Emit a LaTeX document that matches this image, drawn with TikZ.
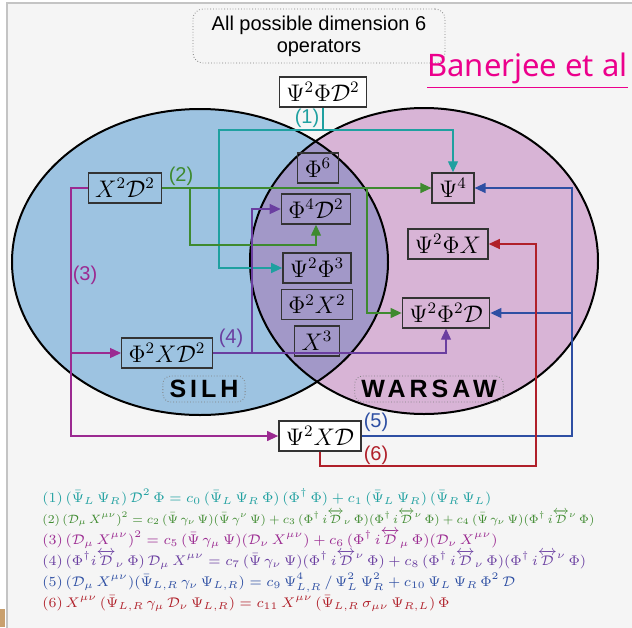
\documentclass[tikz,border=0pt]{standalone}
\usepackage{amsmath}
\usepackage{graphicx}
\usepackage{fontspec}
\setsansfont{Liberation Sans}
\newfontfamily\refsfont{Noto Sans}
\newfontfamily\tagsfont[LetterSpace=16]{Liberation Sans}
\usetikzlibrary{arrows.meta, positioning}
\definecolor{silhBlue}{HTML}{9DC3E1}
\definecolor{warsawPink}{HTML}{D8B4D6}
\definecolor{lensPurple}{HTML}{A298C8}
\definecolor{pageGray}{HTML}{F5F5F5}
\definecolor{rimGray}{HTML}{C4C4C4}
\definecolor{tanMark}{HTML}{C9A06E}
\definecolor{boxLine}{HTML}{333333}
\definecolor{opOne}{HTML}{1FA0A0}
\definecolor{opTwo}{HTML}{3E8A2F}
\definecolor{opThree}{HTML}{9B2A91}
\definecolor{opFour}{HTML}{6A3EA0}
\definecolor{opFive}{HTML}{2E4FA3}
\definecolor{opSix}{HTML}{B0202A}
\tikzset{
  opbox/.style={draw=boxLine, line width=0.7pt, font=\large, inner xsep=3.5pt, inner ysep=0pt, minimum height=15pt},
  tagbox/.style={draw=gray, densely dotted, line width=0.4pt, rounded corners=4pt, font=\tagsfont\bfseries\fontsize{12.5}{14}\selectfont, minimum height=13pt, inner ysep=0pt},
  opline/.style={line width=0.6pt},
  oparr/.style={opline, -{Triangle[length=5.5pt,width=5pt]}},
  numlabel/.style={font=\sffamily\fontsize{10}{12}\selectfont, inner sep=0pt},
  eqline/.style={anchor=base west, font=\scriptsize, inner sep=0pt, text height=5pt, text depth=2pt},
}
\newcommand{\Dlr}{\overleftrightarrow{\mathcal{D}}}

\begin{document}
\begin{tikzpicture}[x=0.5pt, y=-0.5pt]
  \useasboundingbox (0,0) rectangle (632,627);
  \fill[white] (0,0) rectangle (632,627);
  \filldraw[fill=pageGray, draw=rimGray, line width=1pt] (7,3) rectangle (650,650);
  \fill[tanMark] (0,609) rectangle (5,627);

  \fill[silhBlue] (200,262) ellipse [x radius=188, y radius=153];
  \fill[warsawPink] (424,261) ellipse [x radius=174, y radius=153];
  \begin{scope}
    \clip (200,262) ellipse [x radius=188, y radius=153];
    \fill[lensPurple] (424,261) ellipse [x radius=174, y radius=153];
  \end{scope}
  \draw[line width=1pt] (200,262) ellipse [x radius=188, y radius=153];
  \draw[line width=1pt] (424,261) ellipse [x radius=174, y radius=153];

  \node[draw=gray, densely dotted, rounded corners=5pt, fill=pageGray, align=center,
    font=\sffamily\fontsize{10}{11}\selectfont, minimum width=126pt, minimum height=22pt] (ttl) at (319,36)
    {All possible dimension 6\\operators};
  \node[anchor=base west, inner sep=0pt, text=magenta, font=\refsfont\fontsize{15.5}{18}\selectfont] (ref) at (427,76)
    {\underline{Banerjee et al}};

  \node[opbox, fill=white] (top) at (323,92) {$\Psi^2\Phi\mathcal{D}^2$};
  \node[opbox] (xdd) at (125,188) {$X^2\mathcal{D}^2$};
  \node[opbox] (phisix) at (318,168) {$\Phi^6$};
  \node[opbox] (phifour) at (316,209) {$\Phi^4\mathcal{D}^2$};
  \node[opbox] (psiphithree) at (317,268) {$\Psi^2\Phi^3$};
  \node[opbox, below=2.5pt of psiphithree] (phixx) {$\Phi^2X^2$};
  \node[opbox, below=2.5pt of phixx] (xthree) {$X^3$};
  \node[opbox] (psifour) at (453,188) {$\Psi^4$};
  \node[opbox] (psiphix) at (448,244) {$\Psi^2\Phi X$};
  \node[opbox] (psiphid) at (446,313) {$\Psi^2\Phi^2\mathcal{D}$};
  \node[opbox] (phixd) at (167,353) {$\Phi^2X\mathcal{D}^2$};
  \node[opbox, fill=white] (psixd) at (320,436) {$\Psi^2X\mathcal{D}$};

  \node[tagbox, minimum width=41pt] (silh) at (204,389) {SILH};
  \node[tagbox, minimum width=74pt] (warsaw) at (429,389) {WARSAW};

  \coordinate (a1) at (323,130);
  \draw[oparr, opOne] (top) -- (a1) -| (psifour);
  \draw[oparr, opOne] (a1) -- (219,130) |- (psiphithree);
  \draw[oparr, opTwo] (xdd) -- (psifour);
  \coordinate (a2) at (316,245);
  \draw[oparr, opTwo] (190,188) |- (a2) -- (phifour);
  \draw[oparr, opTwo] (367,188) |- (psiphid);
  \draw[oparr, opThree] (xdd) -- (71,188) |- (psixd);
  \draw[oparr, opThree] (71,353) -- (phixd);
  \draw[oparr, opFour] (phixd) -| (psiphid);
  \draw[oparr, opFour] (252,353) |- (phifour);
  \coordinate (a5) at (572,188);
  \draw[oparr, opFive] (psixd) -| (a5) -- (psifour);
  \draw[oparr, opFive] (572,313) -- (psiphid);
  \coordinate (a6) at (536,466);
  \draw[oparr, opSix] (psixd) |- (a6) |- (psiphix);

  \node[numlabel, text=opOne] (l1) at (307,118) {(1)};
  \node[numlabel, text=opTwo] (l2) at (181,176) {(2)};
  \node[numlabel, text=opThree] (l3) at (85,275) {(3)};
  \node[numlabel, text=opFour] (l4) at (231,338) {(4)};
  \node[numlabel, text=opFive] (l5) at (376,422) {(5)};
  \node[numlabel, text=opSix] (l6) at (376,455) {(6)};

  \node[eqline, text=opOne] (e1) at (42,502)
    {$(1)\,(\bar\Psi_L\,\Psi_R)\,\mathcal{D}^2\,\Phi = c_0\,(\bar\Psi_L\,\Psi_R\,\Phi)\,(\Phi^\dagger\,\Phi) + c_1\,(\bar\Psi_L\,\Psi_R)\,(\bar\Psi_R\,\Psi_L)$};
  \node[eqline, text=opTwo] (e2) at (42,523)
    {\resizebox{276pt}{!}{$(2)\,(\mathcal{D}_\mu\,X^{\mu\nu})^2 = c_2\,(\bar\Psi\,\gamma_\nu\,\Psi)(\bar\Psi\,\gamma^\nu\,\Psi) + c_3\,(\Phi^\dagger\,i\Dlr_\nu\,\Phi)(\Phi^\dagger\,i\Dlr^\nu\,\Phi) + c_4\,(\bar\Psi\,\gamma_\nu\,\Psi)(\Phi^\dagger\,i\Dlr^\nu\,\Phi)$}};
  \node[eqline, text=opThree] (e3) at (42,544)
    {$(3)\,(\mathcal{D}_\mu\,X^{\mu\nu})^2 = c_5\,(\bar\Psi\,\gamma_\mu\,\Psi)(\mathcal{D}_\nu\,X^{\mu\nu}) + c_6\,(\Phi^\dagger\,i\Dlr_\mu\,\Phi)(\mathcal{D}_\nu\,X^{\mu\nu})$};
  \node[eqline, text=opFour] (e4) at (42,565)
    {$(4)\,(\Phi^\dagger i\Dlr_\nu\,\Phi)\,\mathcal{D}_\mu\,X^{\mu\nu} = c_7\,(\bar\Psi\,\gamma_\nu\,\Psi)(\Phi^\dagger\,i\Dlr^\nu\,\Phi) + c_8\,(\Phi^\dagger\,i\Dlr_\nu\,\Phi)(\Phi^\dagger\,i\Dlr^\nu\,\Phi)$};
  \node[eqline, text=opFive] (e5) at (42,586)
    {$(5)\,(\mathcal{D}_\mu\,X^{\mu\nu})(\bar\Psi_{L,R}\,\gamma_\nu\,\Psi_{L,R}) = c_9\,\Psi^4_{L,R}\,/\,\Psi^2_L\,\Psi^2_R + c_{10}\,\Psi_L\,\Psi_R\,\Phi^2\,\mathcal{D}$};
  \node[eqline, text=opSix] (e6) at (42,607)
    {$(6)\,X^{\mu\nu}\,(\bar\Psi_{L,R}\,\gamma_\mu\,\mathcal{D}_\nu\,\Psi_{L,R}) = c_{11}\,X^{\mu\nu}\,(\bar\Psi_{L,R}\,\sigma_{\mu\nu}\,\Psi_{R,L})\,\Phi$};
\end{tikzpicture}
\end{document}
